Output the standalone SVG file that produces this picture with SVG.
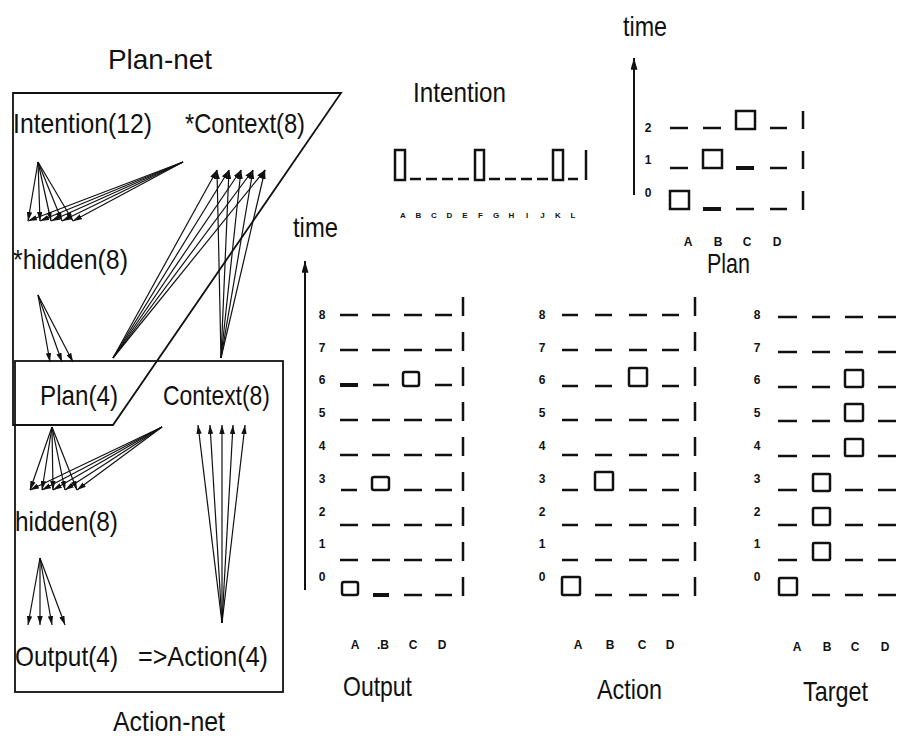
<svg xmlns="http://www.w3.org/2000/svg" width="906" height="736" viewBox="0 0 906 736">
<style>
text{font-family:"Liberation Sans","DejaVu Sans",sans-serif;fill:#111}
.lbl{font-size:28px}
.sm{font-size:12px;font-weight:bold}
.xs{font-size:8px;font-weight:bold}
.frame{fill:none;stroke:#111;stroke-width:1.8}
.cn line{stroke:#111;stroke-width:1.2;marker-end:url(#ah)}
.ax{stroke:#111;stroke-width:2;marker-end:url(#ah2)}
.d{stroke:#111;stroke-width:2.5}
.dk{stroke:#111;stroke-width:4}
.sq{fill:none;stroke:#111;stroke-width:2.5}
</style>
<defs>
<marker id="ah" viewBox="0 0 10 6" refX="10" refY="3" markerWidth="9" markerHeight="5.5" orient="auto" markerUnits="userSpaceOnUse"><path d="M0,0 L10,3 L0,6 z" fill="#111"/></marker>
<marker id="ah2" viewBox="0 0 10 6" refX="10" refY="3" markerWidth="12" markerHeight="7" orient="auto" markerUnits="userSpaceOnUse"><path d="M0,0 L10,3 L0,6 z" fill="#111"/></marker>
</defs>
<rect width="906" height="736" fill="#fff"/>

<g id="plan-net">
<polygon class="frame" points="13,93 341,93 113,425 13,425"/>
<text class="lbl" x="108" y="69" textLength="104" lengthAdjust="spacingAndGlyphs">Plan-net</text>
</g>
<g id="action-net">
<rect class="frame" x="15" y="361" width="268" height="331"/>
<text class="lbl" x="113" y="731" textLength="112" lengthAdjust="spacingAndGlyphs">Action-net</text>
</g>

<g id="intention12"><text class="lbl" x="13" y="133" textLength="139" lengthAdjust="spacingAndGlyphs">Intention(12)</text></g>
<g id="pcontext8"><text class="lbl" x="185" y="133" textLength="120" lengthAdjust="spacingAndGlyphs">*Context(8)</text></g>
<g id="phidden8"><text class="lbl" x="13" y="269" textLength="115" lengthAdjust="spacingAndGlyphs">*hidden(8)</text></g>
<g id="plan4"><text class="lbl" x="40" y="405" textLength="78" lengthAdjust="spacingAndGlyphs">Plan(4)</text></g>
<g id="context8"><text class="lbl" x="163" y="405" textLength="107" lengthAdjust="spacingAndGlyphs">Context(8)</text></g>
<g id="ahidden8"><text class="lbl" x="15" y="531" textLength="103" lengthAdjust="spacingAndGlyphs">hidden(8)</text></g>
<g id="output4"><text class="lbl" x="15" y="666" textLength="103" lengthAdjust="spacingAndGlyphs">Output(4)</text></g>
<g id="action4"><text class="lbl" x="138" y="666" textLength="130" lengthAdjust="spacingAndGlyphs">=&gt;Action(4)</text></g>

<g id="connectors" class="cn">
<line x1="38" y1="162" x2="28" y2="221"/><line x1="38" y1="162" x2="40" y2="221"/><line x1="38" y1="162" x2="51" y2="221"/><line x1="38" y1="162" x2="62" y2="221"/><line x1="38" y1="162" x2="73" y2="221"/>
<line x1="183" y1="162" x2="28" y2="221"/><line x1="183" y1="162" x2="40" y2="221"/><line x1="183" y1="162" x2="51" y2="221"/><line x1="183" y1="162" x2="62" y2="221"/><line x1="183" y1="162" x2="73" y2="221"/>
<line x1="38" y1="295" x2="50" y2="362"/><line x1="38" y1="295" x2="62" y2="362"/><line x1="38" y1="295" x2="73" y2="362"/>
<line x1="113" y1="358" x2="217" y2="170"/><line x1="113" y1="358" x2="229" y2="170"/><line x1="113" y1="358" x2="241" y2="170"/><line x1="113" y1="358" x2="253" y2="170"/><line x1="113" y1="358" x2="265" y2="170"/>
<line x1="221" y1="358" x2="217" y2="170"/><line x1="221" y1="358" x2="229" y2="170"/><line x1="221" y1="358" x2="241" y2="170"/><line x1="221" y1="358" x2="253" y2="170"/><line x1="221" y1="358" x2="265" y2="170"/>
<line x1="52" y1="427" x2="30" y2="490"/><line x1="52" y1="427" x2="42" y2="490"/><line x1="52" y1="427" x2="53" y2="490"/><line x1="52" y1="427" x2="65" y2="490"/><line x1="52" y1="427" x2="77" y2="490"/>
<line x1="162" y1="427" x2="30" y2="490"/><line x1="162" y1="427" x2="42" y2="490"/><line x1="162" y1="427" x2="53" y2="490"/><line x1="162" y1="427" x2="65" y2="490"/><line x1="162" y1="427" x2="77" y2="490"/>
<line x1="40" y1="558" x2="28" y2="625"/><line x1="40" y1="558" x2="40" y2="625"/><line x1="40" y1="558" x2="52" y2="625"/><line x1="40" y1="558" x2="65" y2="625"/>
<line x1="222" y1="623" x2="198" y2="425"/><line x1="222" y1="623" x2="210" y2="425"/><line x1="222" y1="623" x2="222" y2="425"/><line x1="222" y1="623" x2="233" y2="425"/><line x1="222" y1="623" x2="245" y2="425"/>
</g>

<g id="intention-grid">
<text class="lbl" x="413" y="102" textLength="93" lengthAdjust="spacingAndGlyphs">Intention</text>
<rect class="sq" x="395" y="150" width="10" height="30"/>
<rect class="sq" x="475" y="150" width="9" height="30"/>
<rect class="sq" x="553" y="150" width="10" height="30"/>
<path class="d" d="M410,179h11M426,179h11M442,179h11M458,179h11M489,179h11M505,179h11M521,179h11M537,179h11M568,179h10M586,150v30"/>
<g class="xs" text-anchor="middle">
<text x="403" y="218">A</text><text x="418.5" y="218">B</text><text x="434" y="218">C</text><text x="449.5" y="218">D</text><text x="465" y="218">E</text><text x="480.5" y="218">F</text><text x="496" y="218">G</text><text x="511.5" y="218">H</text><text x="527" y="218">I</text><text x="542.5" y="218">J</text><text x="558" y="218">K</text><text x="573" y="218">L</text>
</g>
</g>

<g id="plan-grid">
<text class="lbl" x="623" y="36" textLength="44" lengthAdjust="spacingAndGlyphs">time</text>
<line class="ax" x1="634" y1="195" x2="634" y2="58"/>
<g class="sm" text-anchor="middle"><text x="648" y="132">2</text><text x="648" y="164">1</text><text x="648" y="197">0</text></g>
<path class="d" d="M670,128h18M703,128h18M770,128h17M670,168h18M770,168h17M736,209h18M770,209h17M803,111v18M803,151v18M803,191v19"/>
<path class="dk" d="M736,168h18M703,209h18"/>
<rect class="sq" x="736" y="111" width="19" height="18"/>
<rect class="sq" x="703" y="150" width="19" height="18"/>
<rect class="sq" x="670" y="191" width="19" height="18"/>
<g class="sm" text-anchor="middle"><text x="688" y="246">A</text><text x="718" y="246">B</text><text x="747" y="246">C</text><text x="777" y="246">D</text></g>
<text class="lbl" x="707" y="273" textLength="43" lengthAdjust="spacingAndGlyphs">Plan</text>
</g>

<g id="output-grid">
<text class="lbl" x="293" y="237" textLength="45" lengthAdjust="spacingAndGlyphs">time</text>
<line class="ax" x1="305" y1="590" x2="305" y2="261"/>
<g class="sm" text-anchor="middle"><text x="322" y="319">8</text><text x="322" y="352">7</text><text x="322" y="384">6</text><text x="322" y="417">5</text><text x="322" y="450">4</text><text x="322" y="483">3</text><text x="322" y="516">2</text><text x="322" y="548">1</text><text x="322" y="581">0</text></g>
<path class="d" d="M340,315h18M372,315h18M404,315h18M435,315h17M340,350h18M372,350h18M404,350h18M435,350h17M373,385h16M435,385h17M340,420h18M372,420h18M404,420h18M435,420h17M340,455h18M372,455h18M404,455h18M435,455h17M341,490h16M404,490h18M435,490h17M340,525h18M372,525h18M404,525h18M435,525h17M340,560h18M372,560h18M404,560h18M435,560h17M404,595h18M435,595h17"/>
<path class="dk" d="M340,385h18M373,595h16"/>
<path class="d" d="M463,297v19M463,332v19M463,367v19M463,402v19M463,437v19M463,472v19M463,507v19M463,542v19M463,577v19"/>
<rect class="sq" x="403" y="372" width="16" height="14" rx="2"/>
<rect class="sq" x="372" y="477" width="17" height="13" rx="2"/>
<rect class="sq" x="342" y="582" width="16" height="13" rx="2"/>
<g class="sm" text-anchor="middle"><text x="355" y="649">A</text><text x="383" y="649">.B</text><text x="413" y="649">C</text><text x="442" y="649">D</text></g>
<text class="lbl" x="343" y="696" textLength="69" lengthAdjust="spacingAndGlyphs">Output</text>
</g>

<g id="action-grid">
<g class="sm" text-anchor="middle"><text x="542" y="319">8</text><text x="542" y="352">7</text><text x="542" y="384">6</text><text x="542" y="417">5</text><text x="542" y="450">4</text><text x="542" y="483">3</text><text x="542" y="516">2</text><text x="542" y="548">1</text><text x="542" y="581">0</text></g>
<path class="d" d="M562,315h16M595,315h17M629,315h18M662,315h17M562,350h16M595,350h17M629,350h18M662,350h17M562,386h16M595,386h17M662,386h17M562,420h16M595,420h17M629,420h18M662,420h17M562,455h16M595,455h17M629,455h18M662,455h17M562,490h16M629,490h18M662,490h17M562,525h16M595,525h17M629,525h18M662,525h17M562,560h16M595,560h17M629,560h18M662,560h17M595,595h17M629,595h18M662,595h17"/>
<path class="d" d="M695,297v19M695,332v19M695,367v19M695,402v19M695,437v19M695,472v19M695,507v19M695,542v19M695,577v19"/>
<rect class="sq" x="629" y="368" width="18" height="18" rx="1"/>
<rect class="sq" x="595" y="472" width="18" height="18" rx="1"/>
<rect class="sq" x="562" y="577" width="18" height="18" rx="1"/>
<g class="sm" text-anchor="middle"><text x="578" y="649">A</text><text x="610" y="649">B</text><text x="642" y="649">C</text><text x="670" y="649">D</text></g>
<text class="lbl" x="597" y="699" textLength="65" lengthAdjust="spacingAndGlyphs">Action</text>
</g>

<g id="target-grid">
<g class="sm" text-anchor="middle"><text x="757" y="319">8</text><text x="757" y="352">7</text><text x="757" y="384">6</text><text x="757" y="417">5</text><text x="757" y="450">4</text><text x="757" y="483">3</text><text x="757" y="516">2</text><text x="757" y="548">1</text><text x="757" y="581">0</text></g>
<path class="d" d="M778,317h19M812,317h18M845,317h18M878,317h18M778,352h19M812,352h18M845,352h18M878,352h18M778,387h19M812,387h18M878,387h18M778,421h19M812,421h18M878,421h18M778,456h19M812,456h18M878,456h18M778,490h19M845,490h18M878,490h18M778,525h19M845,525h18M878,525h18M778,560h19M845,560h18M878,560h18M812,595h18M845,595h18M878,595h18"/>
<rect class="sq" x="845" y="370" width="18" height="17" rx="1"/>
<rect class="sq" x="845" y="404" width="18" height="17" rx="1"/>
<rect class="sq" x="845" y="439" width="18" height="17" rx="1"/>
<rect class="sq" x="813" y="474" width="17" height="17" rx="1"/>
<rect class="sq" x="813" y="508" width="17" height="17" rx="1"/>
<rect class="sq" x="813" y="543" width="17" height="17" rx="1"/>
<rect class="sq" x="779" y="578" width="18" height="17" rx="1"/>
<g class="sm" text-anchor="middle"><text x="797" y="651">A</text><text x="827" y="651">B</text><text x="855" y="651">C</text><text x="885" y="651">D</text></g>
<text class="lbl" x="803" y="701" textLength="65" lengthAdjust="spacingAndGlyphs">Target</text>
</g>
</svg>
